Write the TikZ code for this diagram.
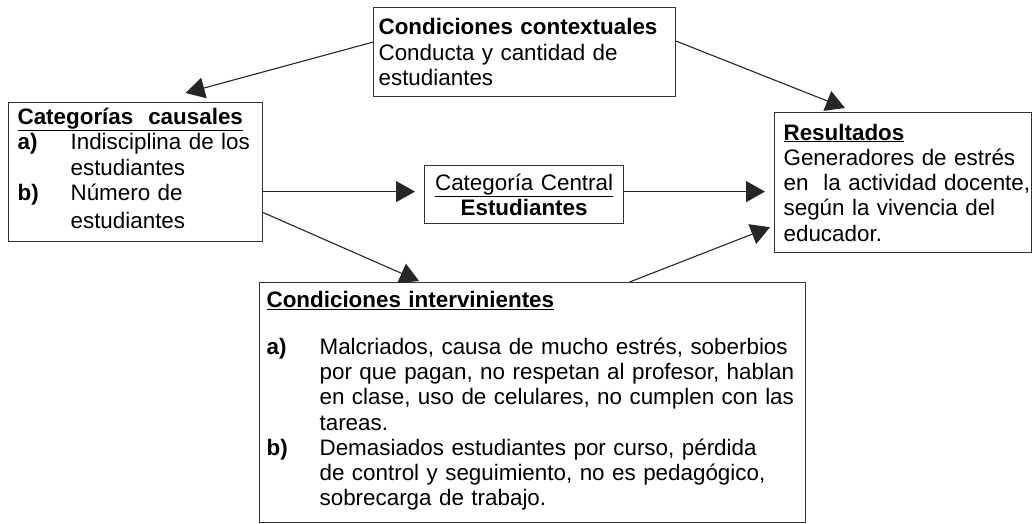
\documentclass[tikz,border=0pt]{standalone}
\usepackage{fontspec}
\setmainfont{Liberation Sans}
\usetikzlibrary{arrows.meta}

\begin{document}
\begin{tikzpicture}[x=1pt,y=-1pt,
  box/.style={draw=black!80,line width=1.2pt,rectangle,anchor=north west,align=left,
    inner ysep=0pt,font=\fontsize{22.4}{25.3}\selectfont},
  arr/.style={draw=black!85,line width=1.1pt,-{Triangle[length=19pt,width=21pt]}}]
\fill[white] (0,0) rectangle (1034,523);
\useasboundingbox (0,0) rectangle (1034,523);

\node[box,inner xsep=5pt,text width=292pt,minimum height=89pt] (ctx) at (373,7)
  {\textbf{Condiciones contextuales}\\Conducta y cantidad de\\estudiantes};
\node[box,inner xsep=9pt,text width=236pt,minimum height=139pt] (causales) at (8,102)
  {\underline{\textbf{Categorías\ \ causales}}\\
   \begin{tabular}{@{}p{53pt}@{}l@{}}
   \textbf{a)} & Indisciplina de los\\
               & estudiantes\\
   \textbf{b)} & Número de\\[3pt]
               & estudiantes
   \end{tabular}};
\node[box,align=center,inner xsep=5pt,text width=189pt,minimum height=58pt] (central) at (424,165)
  {\underline{Categoría Central}\\\textbf{Estudiantes}};
\node[box,inner xsep=9pt,text width=239pt,minimum height=140pt] (res) at (774,112)
  {\underline{\textbf{Resultados}}\\Generadores de estrés\\\mbox{en\ \ la actividad docente,}\\según la vivencia del\\educador.};
\node[box,inner xsep=7pt,text width=532pt,minimum height=240pt] (int) at (259,282)
  {\underline{\textbf{Condiciones intervinientes}}\\[25.3pt]
   \begin{tabular}{@{}p{53pt}@{}l@{}}
   \textbf{a)} & Malcriados, causa de mucho estrés, soberbios\\
               & por que pagan, no respetan al profesor, hablan\\
               & en clase, uso de celulares, no cumplen con las\\
               & tareas.\\
   \textbf{b)} & Demasiados estudiantes por curso, pérdida\\
               & de control y seguimiento, no es pedagógico,\\
               & sobrecarga de trabajo.
   \end{tabular}};

\draw[arr] ([yshift=10pt]ctx.west) -- ([xshift=50pt,yshift=9pt]causales.north);
\draw[arr] ([yshift=11pt]ctx.east) -- ([xshift=71pt,yshift=4pt]res.north west);
\draw[arr,shorten >=9pt] ([yshift=3pt]causales.east |- central.west) -- ([yshift=3pt]central.west);
\draw[arr,shorten >=9pt] ([yshift=3pt]central.east) -- ([yshift=3pt]central.east -| res.west);
\draw[arr] ([yshift=-40.5pt]causales.east) -- ([xshift=160pt,yshift=1pt]int.north west);
\draw[arr] ([xshift=97pt]int.north) -- ([xshift=-4pt,yshift=26pt]res.south west);
\end{tikzpicture}
\end{document}
